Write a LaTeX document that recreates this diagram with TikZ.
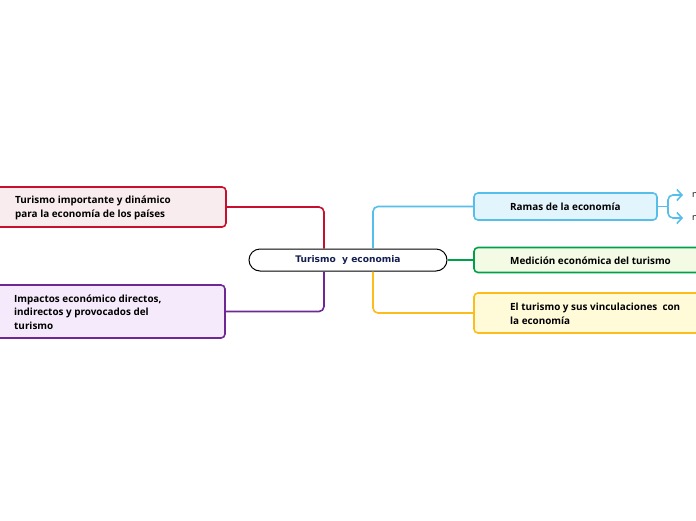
\documentclass[tikz,border=0pt]{standalone}
\usepackage{fontspec}
\setmainfont{Open Sans}
\newfontfamily\rootfont{DejaVu Sans}
\usetikzlibrary{arrows.meta,positioning,calc}
\definecolor{cred}{RGB}{200,16,46}
\definecolor{fred}{RGB}{248,236,238}
\definecolor{cpurple}{RGB}{110,40,150}
\definecolor{fpurple}{RGB}{245,234,251}
\definecolor{cblue}{RGB}{86,190,235}
\definecolor{fblue}{RGB}{226,244,252}
\definecolor{cgreen}{RGB}{0,160,75}
\definecolor{fgreen}{RGB}{243,251,228}
\definecolor{corange}{RGB}{253,188,30}
\definecolor{forange}{RGB}{255,250,216}
\definecolor{navy}{RGB}{20,30,80}
\tikzstyle{topic}=[draw,rounded corners=4pt,line width=1.6pt,inner sep=0pt]
\tikzstyle{topictext}=[anchor=west,align=left,inner sep=0pt,font=\fontsize{9.9}{13.5}\selectfont\bfseries]
\tikzstyle{link}=[line width=1.6pt,rounded corners=5pt]

\begin{document}
\begin{tikzpicture}[x=1pt,y=-1pt]
    \useasboundingbox (0,0) rectangle (696,520);
    % central topic
    \node [draw,line width=1pt,rounded corners=11pt,minimum width=198pt,minimum height=22pt,
      text=navy,font=\rootfont\fontsize{9.1}{11}\selectfont\bfseries] (root) at (348,260) {Turismo\ \ y economia};
    % left side
    \node [topic,draw=cred,fill=fred,minimum width=236pt,minimum height=40pt] (imp) at (108,207) {};
    \node [topictext] (impt) at (15,208) {Turismo importante y dinámico\\para la economía de los países};
    \node [topic,draw=cpurple,fill=fpurple,minimum width=235pt,minimum height=53pt] (efe) at (107.5,311.5) {};
    \node [topictext] (efet) at (14,312) {Impactos económico directos,\\indirectos y provocados del\\turismo};
    % right side
    \node [topic,draw=cblue,fill=fblue,minimum width=183pt,minimum height=27pt] (ramas) at (565.5,206.5) {};
    \node [topictext] (ramast) at (510,207) {Ramas de la economía};
    \node [topic,draw=cgreen,fill=fgreen,minimum width=226pt,minimum height=25pt] (med) at (587,260) {};
    \node [topictext] (medt) at (510,260.5) {Medición económica del turismo};
    \node [topic,draw=corange,fill=forange,minimum width=226pt,minimum height=40pt] (vinc) at (587,313) {};
    \node [topictext] (vinct) at (510,314) {El turismo y sus vinculaciones\ \ con\\la economía};
    % links
    \draw [link,cred] ([xshift=-24pt]root.north) |- (imp.east);
    \draw [link,cpurple] ([xshift=-24pt]root.south) |- (efe.east);
    \draw [link,cblue] ([xshift=25pt]root.north) |- (ramas.west);
    \draw [link,cgreen] (root.east) -- (med.west);
    \draw [link,corange] ([xshift=25pt]root.south) |- (vinc.west);
    % subtopics of Ramas
    \coordinate (fork) at (668,206.5);
    \node [anchor=west,inner sep=0pt,font=\fontsize{9}{11}\selectfont] (sub1) at (692,195) {n};
    \node [anchor=west,inner sep=0pt,font=\fontsize{9}{11}\selectfont] (sub2) at (692,218) {n};
    \draw [line width=1.6pt,cblue] (ramas.east) -- (fork);
    \draw [link,cblue,-{Straight Barb[length=5pt,width=11pt]}] (fork) |- ([xshift=-9pt]sub1.west);
    \draw [link,cblue,-{Straight Barb[length=5pt,width=11pt]}] (fork) |- ([xshift=-9pt]sub2.west);
\end{tikzpicture}
\end{document}
